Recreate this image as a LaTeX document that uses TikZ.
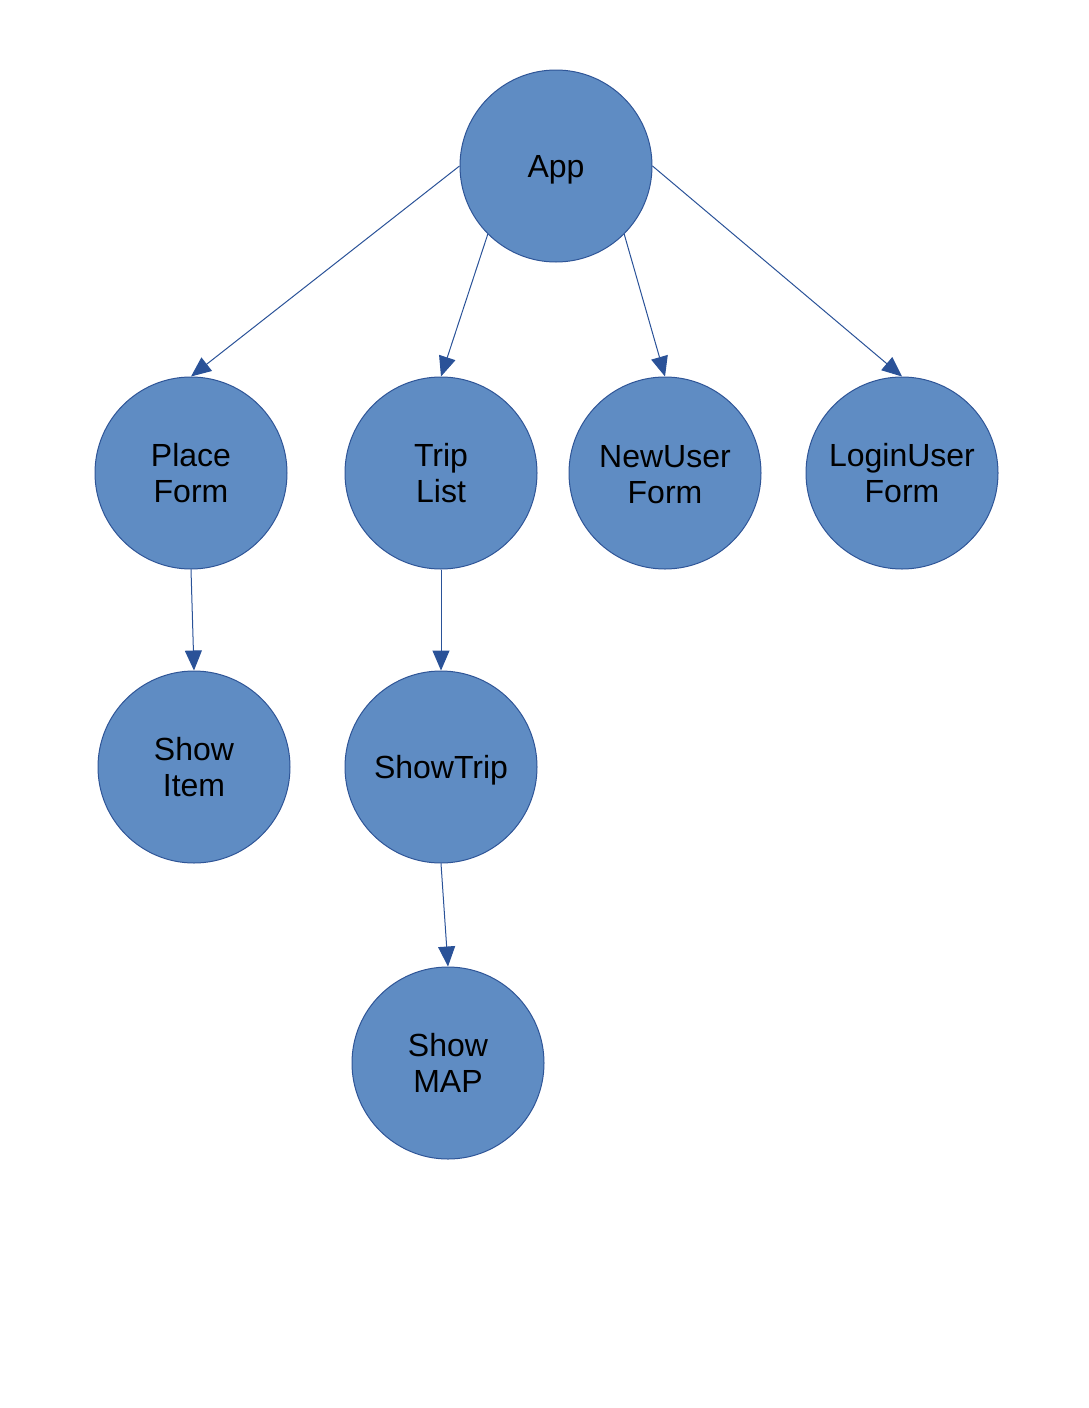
\documentclass[tikz,border=0pt]{standalone}
\usepackage{fontspec}
\setmainfont{Liberation Sans}
\usetikzlibrary{arrows.meta}
\definecolor{nodefill}{HTML}{5F8CC3}
\definecolor{nodeline}{HTML}{2F5597}
\definecolor{edgeline}{HTML}{2A5298}
% lower a label without changing the size used for centring
\newcommand{\dropped}[2][3.5pt]{\raisebox{-#1}[\height][\depth]{#2}}
\begin{document}
\begin{tikzpicture}[x=1pt,y=-1pt,
  comp/.style={circle, fill=nodefill, draw=nodeline, line width=1pt,
    minimum size=192pt, inner sep=0pt, align=center,
    font=\fontsize{32}{36}\selectfont, text=black},
  link/.style={draw=edgeline, line width=1pt,
    -{Triangle[length=20pt,width=17pt]}}]
\useasboundingbox (0,0) rectangle (1088,1408);
\node[comp] (app)   at (556,166)  {\dropped{App}};
\node[comp] (place) at (191,473)  {Place\\Form};
\node[comp] (trip)  at (441,473)  {Trip\\List};
\node[comp] (newu)  at (665,473)  {\dropped[1.5pt]{NewUser}\\\dropped[1.5pt]{Form}};
\node[comp] (login) at (902,473)  {LoginUser\\Form};
\node[comp] (item)  at (194,767)  {Show\\Item};
\node[comp] (show)  at (441,767)  {\dropped{ShowTrip}};
\node[comp] (map)   at (448,1063) {Show\\MAP};
\draw[link] (app.west) -- (place.north);
\draw[link] (app.225)  -- (trip.north);
\draw[link] (app.315)  -- (newu.north);
\draw[link] (app.east) -- (login.north);
\draw[link] (place.south) -- (item.north);
\draw[link] (trip.south)  -- (show.north);
\draw[link] (show.south)  -- (map.north);
\end{tikzpicture}
\end{document}
